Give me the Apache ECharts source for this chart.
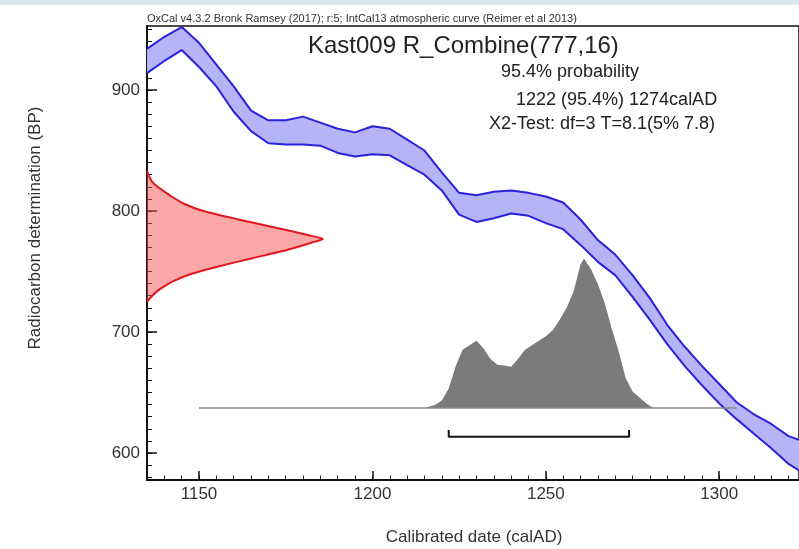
<!DOCTYPE html>
<html>
<head>
<meta charset="utf-8">
<script src="https://cdn.jsdelivr.net/npm/echarts@6/dist/echarts.min.js"></script>
<style>
  html, body { margin: 0; padding: 0; background: #fff; }
  #chart { width: 799px; height: 549px; }
</style>
</head>
<body>
<div id="chart"></div>
<script>
// IntCal13 band (1 sigma)
const curveYears = [1135, 1140, 1145, 1150, 1155, 1160, 1165, 1170, 1175, 1180, 1185, 1190, 1195, 1200, 1205, 1210, 1215, 1220, 1225, 1230,
  1235, 1240, 1245, 1250, 1255, 1260, 1265, 1270, 1275, 1280, 1285, 1290, 1295, 1300, 1305, 1310, 1315, 1320, 1325];
const curveUpper = [934, 944, 952, 939, 921, 903, 883, 875, 875, 878, 873, 868, 865, 870, 868, 859, 850, 832, 815, 813,
  816, 817, 815, 812, 807, 793, 776, 764, 747, 728, 706, 688, 672, 657, 642, 632, 624, 614, 609];
const curveLower = [914, 924, 933, 919, 903, 882, 866, 856, 855, 855, 854, 848, 845, 847, 846, 838, 830, 817, 797, 791,
  794, 798, 796, 790, 785, 772, 758, 747, 729, 710, 690, 672, 656, 641, 628, 616, 604, 591, 582];

// R_Combine(777,16) measured distribution (relative)
const redBP = [833, 831, 828, 824, 820, 816, 812, 806, 800, 793, 786, 780, 777, 774, 768, 761, 754, 748, 742, 738, 734, 730, 727, 725];
const redProb = [0, 0.005, 0.015, 0.03, 0.06, 0.1, 0.14, 0.21, 0.32, 0.52, 0.74, 0.92, 1.0, 0.94, 0.8, 0.6, 0.4, 0.25, 0.15, 0.1, 0.06, 0.03, 0.012, 0];

// calibrated posterior (relative)
const histYears = [1215, 1218, 1220, 1222, 1224, 1226, 1228, 1230, 1232, 1234, 1236, 1238, 1240, 1242, 1244, 1246, 1248,
  1250, 1252, 1254, 1256, 1258, 1260, 1261, 1263, 1265, 1267, 1269, 1271, 1273, 1275, 1277, 1279, 1281];
const histProb = [0, 0.02, 0.05, 0.13, 0.28, 0.39, 0.42, 0.45, 0.40, 0.33, 0.29, 0.285, 0.276, 0.33, 0.39, 0.42, 0.45,
  0.48, 0.52, 0.59, 0.67, 0.78, 0.96, 1.0, 0.93, 0.83, 0.70, 0.53, 0.38, 0.20, 0.11, 0.07, 0.03, 0];

const baseRange = [1150, 1305];
const rangeYears = [1222, 1274];

const yearLabels = [1150, 1200, 1250, 1300];
const bpLabels = [600, 700, 800, 900];

const headerNote = 'OxCal v4.3.2 Bronk Ramsey (2017); r:5; IntCal13 atmospheric curve (Reimer et al 2013)';
const titleText = 'Kast009 R_Combine(777,16)';
const infoLines = ['95.4% probability', '1222 (95.4%) 1274calAD', 'X2-Test: df=3 T=8.1(5% 7.8)'];

const FONT = '"Liberation Sans", Arial, sans-serif';

const minorYears = [];
for (let y = 1135; y <= 1320; y += 5) minorYears.push(y);
const minorBP = [];
for (let v = 580; v <= 950; v += 10) minorBP.push(v);

const pairs = (xs, ys) => xs.map((x, i) => [x, ys[i]]);

const chart = echarts.init(document.getElementById('chart'));

const option = {
  animation: false,
  backgroundColor: '#fff',
  grid: {
    left: 147, top: 26, width: 660, height: 454,
    show: true, borderColor: '#111', borderWidth: 1.5, backgroundColor: 'transparent'
  },
  xAxis: [
    {
      type: 'value', min: 1135, max: 1323, position: 'bottom',
      splitLine: { show: false },
      axisLine: { onZero: false, lineStyle: { color: '#111', width: 2 } },
      axisTick: { customValues: minorYears, inside: true, length: 4.5, lineStyle: { color: '#111', width: 1 } },
      axisLabel: { customValues: yearLabels, formatter: v => String(v), fontSize: 17, color: '#333', fontFamily: FONT, margin: 6 }
    },
    {
      type: 'value', min: 1135, max: 1323, position: 'bottom',
      splitLine: { show: false },
      axisLine: { show: false, onZero: false },
      axisTick: { customValues: yearLabels, inside: true, length: 9, lineStyle: { color: '#111', width: 1.5 } },
      axisLabel: { show: false }
    },
    { type: 'value', min: 0, max: 3.708, position: 'top', show: false, axisLine: { onZero: false } }
  ],
  yAxis: [
    {
      type: 'value', min: 577.7, max: 952.9, position: 'left',
      splitLine: { show: false },
      axisLine: { onZero: false, lineStyle: { color: '#111', width: 2 } },
      axisTick: { customValues: minorBP, inside: true, length: 5, lineStyle: { color: '#111', width: 1 } },
      axisLabel: { customValues: bpLabels, formatter: v => String(v), fontSize: 17, color: '#333', fontFamily: FONT, margin: 7 }
    },
    {
      type: 'value', min: 577.7, max: 952.9, position: 'left',
      splitLine: { show: false },
      axisLine: { show: false, onZero: false },
      axisTick: { customValues: bpLabels, inside: true, length: 10, lineStyle: { color: '#111', width: 1.5 } },
      axisLabel: { show: false }
    },
    { type: 'value', min: -0.4816, max: 2.555, position: 'right', show: false, axisLine: { onZero: false } }
  ],
  series: [
    {
      // calibration band fill
      type: 'custom', xAxisIndex: 0, yAxisIndex: 0, silent: true, z: 1,
      data: [[curveYears[0], curveUpper[0]]],
      renderItem: (params, api) => {
        const top = curveYears.map((x, i) => api.coord([x, curveUpper[i]]));
        const bottom = curveYears.map((x, i) => api.coord([x, curveLower[i]])).reverse();
        const cs = params.coordSys;
        return {
          type: 'polygon',
          shape: { points: top.concat(bottom) },
          style: { fill: '#b4b4f6' },
          clipPath: { type: 'rect', shape: { x: cs.x, y: cs.y, width: cs.width, height: cs.height } }
        };
      }
    },
    {
      type: 'line', xAxisIndex: 0, yAxisIndex: 2, z: 2, symbol: 'none', silent: true,
      data: pairs(histYears, histProb),
      lineStyle: { width: 0 },
      areaStyle: { color: '#7b7b7b', opacity: 1 }
    },
    {
      type: 'line', xAxisIndex: 0, yAxisIndex: 0, z: 3, symbol: 'none', silent: true,
      data: pairs(curveYears, curveUpper),
      lineStyle: { color: '#2a22da', width: 2 }
    },
    {
      type: 'line', xAxisIndex: 0, yAxisIndex: 0, z: 3, symbol: 'none', silent: true,
      data: pairs(curveYears, curveLower),
      lineStyle: { color: '#2a22da', width: 2 }
    },
    {
      type: 'line', xAxisIndex: 0, yAxisIndex: 2, z: 4, symbol: 'none', silent: true,
      data: baseRange.map(x => [x, 0]),
      lineStyle: { color: '#8a8a8a', width: 1.5 }
    },
    {
      // 95.4% range bracket
      type: 'line', xAxisIndex: 0, yAxisIndex: 2, z: 4, symbol: 'none', silent: true,
      data: [[rangeYears[0], -0.147], [rangeYears[0], -0.192], [rangeYears[1], -0.192], [rangeYears[1], -0.147]],
      lineStyle: { color: '#111', width: 2 }
    },
    {
      // measured radiocarbon date on the y axis
      type: 'custom', xAxisIndex: 2, yAxisIndex: 0, silent: true, z: 5,
      data: [[0, 777]],
      renderItem: (params, api) => {
        const pts = redBP.map((b, i) => api.coord([redProb[i], b]));
        return {
          type: 'group',
          children: [
            { type: 'polygon', shape: { points: pts, smooth: 0.2 }, style: { fill: 'rgba(245,80,80,0.5)' } },
            { type: 'polyline', shape: { points: pts, smooth: 0.2 }, style: { stroke: '#e01820', lineWidth: 2, fill: null } }
          ]
        };
      }
    }
  ],
  graphic: [
    { type: 'rect', left: 0, top: 0, shape: { width: 799, height: 5 }, style: { fill: '#dbe6ea' } },
    { type: 'text', x: 147, y: 19, style: { text: headerNote, font: '11px ' + FONT, fill: '#333', verticalAlign: 'middle' } },
    { type: 'text', x: 308, y: 46, style: { text: titleText, font: '24px ' + FONT, fill: '#222', verticalAlign: 'middle' } },
    { type: 'text', x: 501, y: 72, style: { text: infoLines[0], font: '18px ' + FONT, fill: '#222', verticalAlign: 'middle' } },
    { type: 'text', x: 516, y: 100, style: { text: infoLines[1], font: '18px ' + FONT, fill: '#222', verticalAlign: 'middle' } },
    { type: 'text', x: 489, y: 124, style: { text: infoLines[2], font: '18px ' + FONT, fill: '#222', verticalAlign: 'middle' } },
    {
      type: 'text', x: 35, y: 228, rotation: Math.PI / 2,
      style: { text: 'Radiocarbon determination (BP)', font: '17px ' + FONT, fill: '#333', align: 'center', verticalAlign: 'middle' }
    },
    {
      type: 'text', x: 474, y: 537,
      style: { text: 'Calibrated date (calAD)', font: '17px ' + FONT, fill: '#333', align: 'center', verticalAlign: 'middle' }
    }
  ]
};

chart.setOption(option);
</script>
</body>
</html>
